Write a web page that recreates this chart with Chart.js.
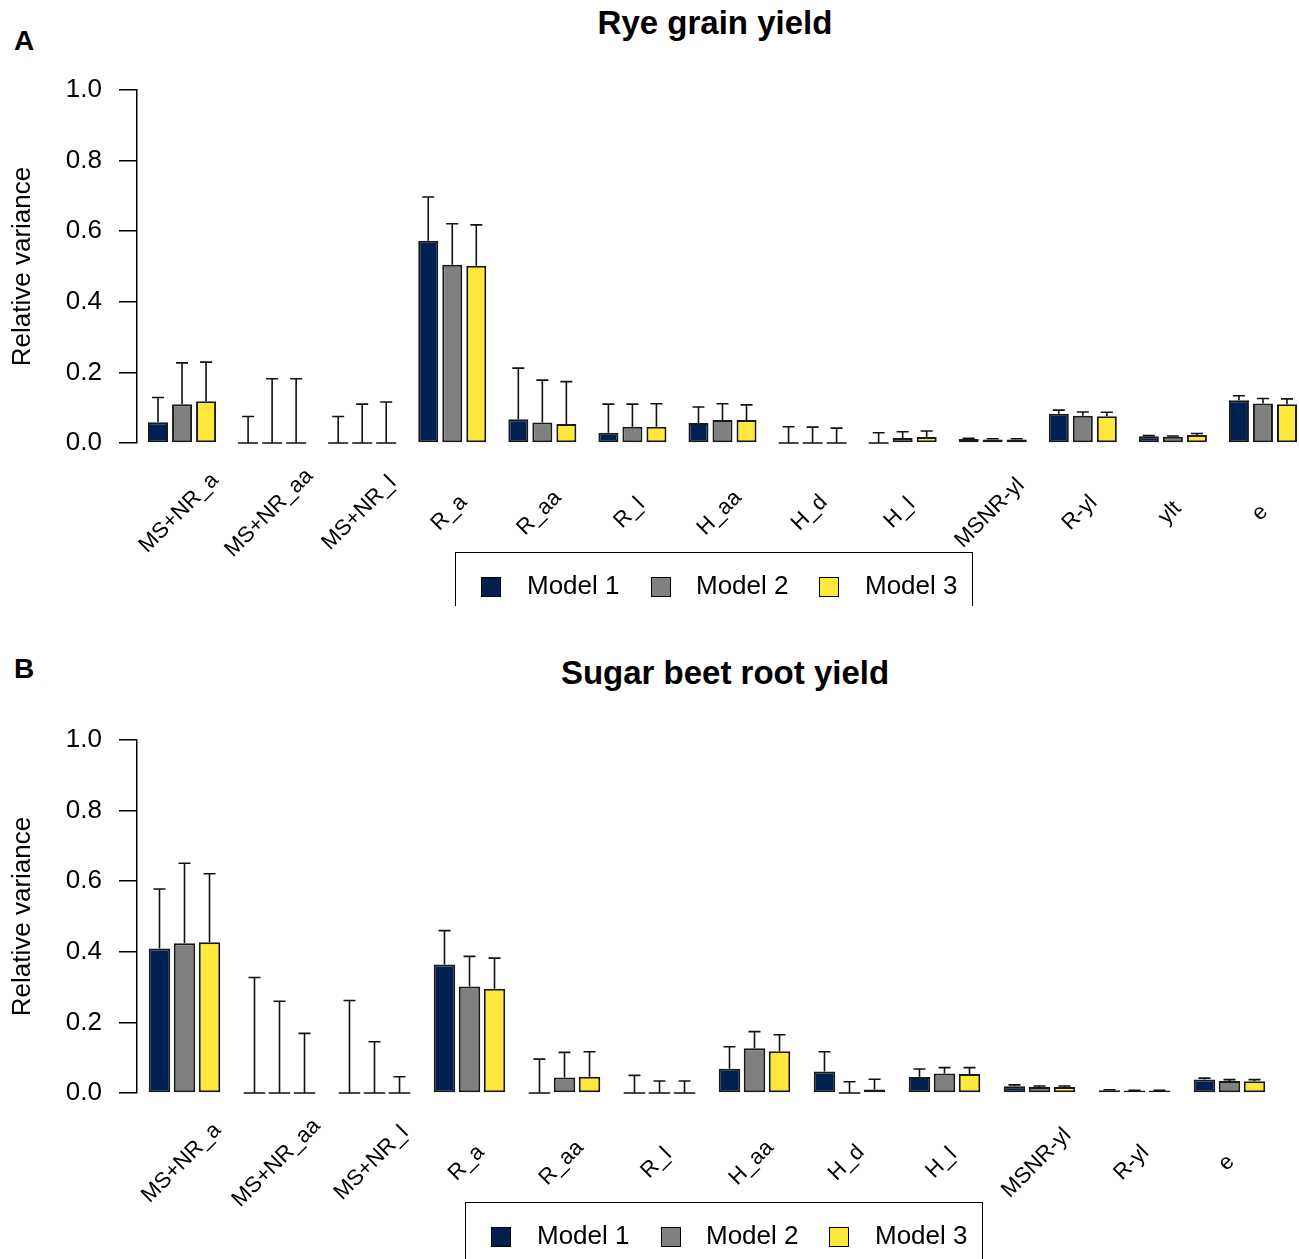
<!DOCTYPE html>
<html>
<head>
<meta charset="utf-8">
<script src="https://cdn.jsdelivr.net/npm/chart.js@4.4.1/dist/chart.umd.min.js"></script>
<style>
  body { margin: 0; background: #fff; font-family: "Liberation Sans", Arial, sans-serif; }
  #wrap { position: relative; width: 1299px; height: 1259px; overflow: hidden; }
  .clip { position: absolute; left: 0; width: 1299px; overflow: hidden; }
  .tag { position: absolute; left: 14px; font-weight: bold; font-size: 28px; }
  .ttl { position: absolute; font-weight: bold; font-size: 33px; transform: translateX(-50%); white-space: nowrap; }
  canvas { position: absolute; left: 0; }
  .legend { position: absolute; width: 518px; height: 200px; border: 1.5px solid #000; box-sizing: border-box; }
  .legend .mk { position: absolute; top: 24px; width: 20px; height: 20px; border: 1px solid #000; box-sizing: border-box; }
  .legend .lb { position: absolute; top: 17px; font-size: 26px; line-height: 30px; }
</style>
</head>
<body>
<div id="wrap">
  <div class="clip" style="top:0;height:606px">
    <div class="tag" style="top:25px">A</div>
    <div class="ttl" style="left:715px;top:4px">Rye grain yield</div>
    <canvas id="rye" width="1308" height="600" style="top:0"></canvas>
    <div class="legend" id="legRye" style="left:455px;top:552px"></div>
  </div>
  <div class="clip" style="top:606px;height:653px">
    <div class="tag" style="top:47px">B</div>
    <div class="ttl" style="left:725px;top:48px">Sugar beet root yield</div>
    <canvas id="beet" width="1299" height="600" style="top:44px"></canvas>
    <div class="legend" id="legBeet" style="left:465px;top:596px"></div>
  </div>
</div>
<script>
// values
const modelNames = ['Model 1', 'Model 2', 'Model 3'];
const modelColors = ['#00204f', '#808080', '#ffe83c'];

const ryeCategories = ['MS+NR_a', 'MS+NR_aa', 'MS+NR_l', 'R_a', 'R_aa', 'R_l', 'H_aa', 'H_d', 'H_l', 'MSNR-yl', 'R-yl', 'ylt', 'e'];
const ryeModel1 = [0.059, 0, 0, 0.573, 0.067, 0.029, 0.057, 0, 0, 0.011, 0.083, 0.019, 0.121];
const ryeModel2 = [0.110, 0, 0, 0.505, 0.058, 0.046, 0.065, 0, 0.014, 0.010, 0.077, 0.018, 0.112];
const ryeModel3 = [0.118, 0, 0, 0.502, 0.054, 0.046, 0.065, 0, 0.017, 0.010, 0.076, 0.023, 0.110];
const ryeUpper1 = [0.129, 0.075, 0.075, 0.697, 0.212, 0.110, 0.102, 0.046, 0.029, 0.013, 0.093, 0.021, 0.134];
const ryeUpper2 = [0.227, 0.182, 0.110, 0.621, 0.178, 0.110, 0.111, 0.045, 0.032, 0.012, 0.088, 0.020, 0.126];
const ryeUpper3 = [0.229, 0.182, 0.116, 0.618, 0.174, 0.111, 0.108, 0.042, 0.034, 0.012, 0.087, 0.027, 0.125];

const beetCategories = ['MS+NR_a', 'MS+NR_aa', 'MS+NR_l', 'R_a', 'R_aa', 'R_l', 'H_aa', 'H_d', 'H_l', 'MSNR-yl', 'R-yl', 'e'];
const beetModel1 = [0.409, 0, 0, 0.364, 0, 0, 0.069, 0.061, 0.045, 0.019, 0.008, 0.038];
const beetModel2 = [0.424, 0, 0, 0.302, 0.044, 0, 0.127, 0, 0.055, 0.017, 0.007, 0.034];
const beetModel3 = [0.427, 0, 0, 0.295, 0.046, 0, 0.118, 0.010, 0.054, 0.017, 0.007, 0.033];
const beetUpper1 = [0.578, 0.327, 0.262, 0.460, 0.096, 0.050, 0.131, 0.117, 0.068, 0.023, 0.009, 0.042];
const beetUpper2 = [0.651, 0.260, 0.145, 0.387, 0.115, 0.034, 0.174, 0.032, 0.072, 0.020, 0.008, 0.038];
const beetUpper3 = [0.621, 0.169, 0.046, 0.382, 0.117, 0.034, 0.165, 0.039, 0.072, 0.020, 0.008, 0.038];

const yTicks = [0, 0.2, 0.4, 0.6, 0.8, 1.0];
const fontFam = '"Liberation Sans", Arial, sans-serif';

// upper error bars (only the upper whisker is drawn in the figure)
const errorBarPlugin = {
  id: 'errorBars',
  afterDatasetsDraw(chart, args, opts) {
    const ctx = chart.ctx;
    const y = chart.scales.y;
    ctx.save();
    ctx.strokeStyle = '#111';
    ctx.lineWidth = 1.6;
    chart.data.datasets.forEach((ds, i) => {
      const meta = chart.getDatasetMeta(i);
      meta.data.forEach((bar, j) => {
        const top = y.getPixelForValue(opts.upper[i][j]);
        ctx.beginPath();
        if (ds.data[j] === 0) {
          // zero bars show up as a flat line
          ctx.moveTo(bar.x - bar.width / 2, bar.y);
          ctx.lineTo(bar.x + bar.width / 2, bar.y);
        }
        ctx.moveTo(bar.x, bar.y);
        ctx.lineTo(bar.x, top);
        ctx.moveTo(bar.x - opts.cap, top);
        ctx.lineTo(bar.x + opts.cap, top);
        ctx.stroke();
      });
    });
    ctx.restore();
  }
};

// category labels centred on the group, turned 45 degrees
const xLabelPlugin = {
  id: 'xLabels',
  afterDraw(chart, args, opts) {
    const ctx = chart.ctx;
    const xs = chart.scales.x;
    ctx.save();
    ctx.font = '22px ' + fontFam;
    ctx.fillStyle = '#000';
    ctx.textAlign = 'center';
    ctx.textBaseline = 'middle';
    chart.data.labels.forEach((lab, i) => {
      ctx.save();
      ctx.translate(xs.getPixelForTick(i) + opts.dx, chart.chartArea.bottom + opts.dy);
      ctx.rotate(-Math.PI / 4);
      ctx.fillText(lab, 0, 0);
      ctx.restore();
    });
    ctx.restore();
  }
};

function makeChart(id, labels, values, uppers, rightPad, catPct, barPct) {
  const ctx = document.getElementById(id).getContext('2d');
  return new Chart(ctx, {
    type: 'bar',
    data: {
      labels: labels,
      datasets: values.map((v, i) => ({
        label: modelNames[i],
        data: v,
        backgroundColor: modelColors[i],
        borderColor: '#1a1a1a',
        borderWidth: 2,
        borderSkipped: false,
        categoryPercentage: catPct,
        barPercentage: barPct
      }))
    },
    options: {
      responsive: false,
      animation: false,
      layout: { padding: { top: 90, right: rightPad, left: 0, bottom: 0 } },
      plugins: {
        legend: { display: false },
        tooltip: { enabled: false },
        errorBars: { upper: uppers, cap: 6 },
        xLabels: { dx: -3, dy: 70 }
      },
      scales: {
        x: {
          offset: true,
          grid: { display: false, drawTicks: false },
          border: { display: false },
          ticks: { display: false },
          afterFit: s => { s.height = 157; }
        },
        y: {
          min: 0,
          max: 1,
          afterBuildTicks: s => { s.ticks = yTicks.map(v => ({ value: v })); },
          ticks: {
            color: '#000',
            font: { size: 26, family: fontFam },
            padding: 17,
            callback: v => v.toFixed(1)
          },
          grid: { drawOnChartArea: false, tickLength: 18, color: '#000', lineWidth: 1.5 },
          border: { display: true, color: '#000', width: 1.5 },
          title: {
            display: true,
            text: 'Relative variance',
            color: '#000',
            font: { size: 26, family: fontFam },
            padding: { top: 7, bottom: 0 }
          },
          afterFit: s => { s.width = 137; }
        }
      }
    },
    plugins: [errorBarPlugin, xLabelPlugin]
  });
}

function makeLegend(id) {
  const box = document.getElementById(id);
  const mkX = [25, 195, 363];
  const lbX = [71, 240, 409];
  modelNames.forEach((name, i) => {
    const mk = document.createElement('div');
    mk.className = 'mk';
    mk.style.left = mkX[i] + 'px';
    mk.style.background = modelColors[i];
    box.appendChild(mk);
    const lb = document.createElement('div');
    lb.className = 'lb';
    lb.style.left = lbX[i] + 'px';
    lb.textContent = name;
    box.appendChild(lb);
  });
}

makeChart('rye', ryeCategories, [ryeModel1, ryeModel2, ryeModel3], [ryeUpper1, ryeUpper2, ryeUpper3], 0, 0.8, 0.833);
makeChart('beet', beetCategories, [beetModel1, beetModel2, beetModel3], [beetUpper1, beetUpper2, beetUpper3], 22, 0.79, 0.86);
makeLegend('legRye');
makeLegend('legBeet');
</script>
</body>
</html>
